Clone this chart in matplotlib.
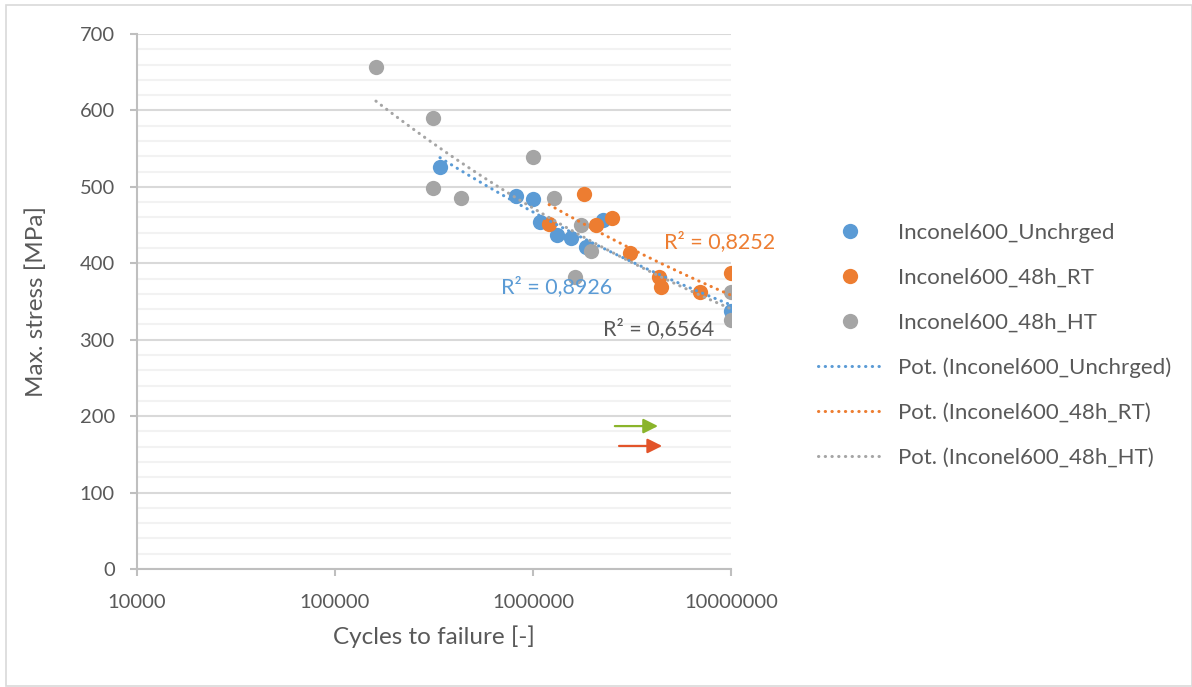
import numpy as np
import matplotlib
matplotlib.use("Agg")
import matplotlib.pyplot as plt
from matplotlib.lines import Line2D
from matplotlib.patches import Rectangle
from matplotlib.ticker import MultipleLocator, FixedLocator, NullLocator

plt.rcParams['font.family'] = ['Lato', 'DejaVu Sans']

# data
unch_cycles = [339000, 820000, 1000000, 1084000, 1320000, 1556000, 1853000, 2250000, 10000000]
unch_stress = [526, 488, 484, 454, 437, 433, 421, 457, 337]

rt_cycles = [1206000, 1810000, 2080000, 2500000, 3090000, 4330000, 4420000, 6970000, 10000000]
rt_stress = [452, 491, 450, 459, 413, 382, 369, 362, 387]

ht_cycles = [161000, 313000, 313000, 433000, 1000000, 1277000, 1630000, 1745000, 1960000, 10000000, 10000000]
ht_stress = [657, 590, 498, 486, 539, 486, 382, 450, 416, 363, 326]

series_names = ["Inconel600_Unchrged", "Inconel600_48h_RT", "Inconel600_48h_HT"]
r2_labels = ["R² = 0,8926", "R² = 0,8252", "R² = 0,6564"]

colors = ["#5B9BD5", "#ED7D31", "#A5A5A5"]
text_gray = "#595959"

fig = plt.figure(figsize=(11.92, 6.87), dpi=100)
ax = fig.add_axes([137 / 1192, 1 - 569 / 687, (731 - 137) / 1192, (569 - 34) / 687])

# outer chart frame
fig.patches.append(Rectangle((6 / 1192, 1 / 687), 1 - 6 / 1192, 1 - 6 / 687,
                             transform=fig.transFigure, fill=False,
                             edgecolor="#D9D9D9", lw=1.2))

data = [(unch_cycles, unch_stress), (rt_cycles, rt_stress), (ht_cycles, ht_stress)]

for (cx, sy), c in zip(data, colors):
    ax.plot(cx, sy, 'o', ms=11, color=c, mec='none', zorder=3)

# power trend lines, fitted in log-log space like Excel does
for (cx, sy), c in zip(data, colors):
    b, a = np.polyfit(np.log(cx), np.log(sy), 1)
    xs = np.logspace(np.log10(min(cx)), np.log10(max(cx)), 100)
    ys = np.exp(a) * xs ** b
    ax.plot(xs, ys, color=c, lw=2.2, dashes=(0.1, 2.1), dash_capstyle='round', zorder=4)

# R² labels
ax.text(1.32e6, 370, r2_labels[0], color=colors[0], fontsize=15.5, ha='center', va='center', zorder=5)
ax.text(8.79e6, 428, r2_labels[1], color=colors[1], fontsize=15.5, ha='center', va='center', zorder=5)
ax.text(4.33e6, 315, r2_labels[2], color=text_gray, fontsize=15.5, ha='center', va='center', zorder=5)

# the two arrows
ax.annotate("", xy=(4.28e6, 187), xytext=(2.59e6, 187),
            arrowprops=dict(arrowstyle='-|>', color="#8AB42B", lw=1.6, mutation_scale=22,
                            shrinkA=0, shrinkB=0))
ax.annotate("", xy=(4.49e6, 161), xytext=(2.72e6, 161),
            arrowprops=dict(arrowstyle='-|>', color="#E2542A", lw=1.6, mutation_scale=22,
                            shrinkA=0, shrinkB=0))

ax.set_xscale('log')
ax.set_xlim(1e4, 1e7)
ax.set_ylim(0, 700)
ax.xaxis.set_major_locator(FixedLocator([1e4, 1e5, 1e6, 1e7]))
ax.xaxis.set_minor_locator(NullLocator())
ax.set_xticklabels(["10000", "100000", "1000000", "10000000"])
ax.yaxis.set_major_locator(MultipleLocator(100))
ax.yaxis.set_minor_locator(MultipleLocator(20))

ax.grid(True, which='major', axis='y', color="#D9D9D9", lw=1.5, zorder=0)
ax.grid(True, which='minor', axis='y', color="#F2F2F2", lw=1.5, zorder=0)
ax.grid(False, axis='x')
ax.set_axisbelow(True)

for s in ['top', 'right']:
    ax.spines[s].set_visible(False)
ax.spines['left'].set_color("#BFBFBF")
ax.spines['left'].set_linewidth(1.5)
ax.spines['bottom'].set_color("#BFBFBF")
ax.spines['bottom'].set_linewidth(1.5)

ax.tick_params(axis='y', which='major', length=5, width=1.5, color="#BFBFBF",
               labelcolor=text_gray, labelsize=14.5, pad=11)
ax.tick_params(axis='y', which='minor', length=0)
ax.tick_params(axis='x', which='major', length=5, width=1.5, color="#BFBFBF",
               labelcolor=text_gray, labelsize=14.5, pad=13)

ax.set_xlabel("Cycles to failure [-]", fontsize=17.5, color=text_gray)
ax.set_ylabel("Max. stress [MPa]", fontsize=17.5, color=text_gray)
ax.xaxis.set_label_coords(0.5, -0.105)
ax.yaxis.set_label_coords(-0.152, 0.5)

# legend
handles = [Line2D([], [], ls='none', marker='o', ms=11, color=c, mec='none') for c in colors]
handles += [Line2D([], [], color=c, lw=2.2, dashes=(0.1, 2.1), dash_capstyle='round') for c in colors]
labels = series_names + ["Pot. (" + n + ")" for n in series_names]
fig.legend(handles, labels, loc='upper left', bbox_to_anchor=(818 / 1192, 1 - 223 / 687),
           frameon=False, fontsize=16, labelcolor=text_gray, handlelength=2.9,
           handletextpad=0.68, labelspacing=1.12, borderaxespad=0, borderpad=0)

fig.savefig("out.png", dpi=100)
